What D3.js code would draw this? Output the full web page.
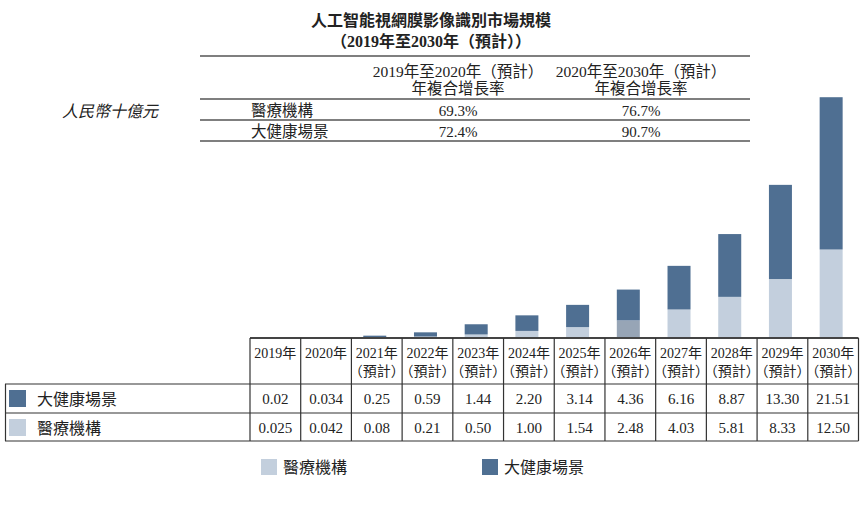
<!DOCTYPE html>
<html><head><meta charset="utf-8">
<script src="https://cdn.jsdelivr.net/npm/d3@7"></script>
<style>
html,body{margin:0;padding:0;background:#fff;}
svg{display:block;}
text{font-family:"Liberation Serif","Noto Sans CJK TC",serif;fill:#222;}
</style></head>
<body>
<svg id="chart" width="862" height="505"></svg>
<script>
const titleLines = ["人工智能視網膜影像識別市場規模", "（2019年至2030年（預計））"];
const unitLabel = "人民幣十億元";
const cagrHeaders = [["2019年至2020年（預計）", "年複合增長率"], ["2020年至2030年（預計）", "年複合增長率"]];
const cagrRows = ["醫療機構", "大健康場景"];
const cagrValues = [["69.3%", "76.7%"], ["72.4%", "90.7%"]];
const years = ["2019年","2020年","2021年","2022年","2023年","2024年","2025年","2026年","2027年","2028年","2029年","2030年"];
const forecastTag = "（預計）";
const forecastFrom = 2;
const seriesNames = ["大健康場景", "醫療機構"];
const healthValues = ["0.02","0.034","0.25","0.59","1.44","2.20","3.14","4.36","6.16","8.87","13.30","21.51"];
const medicalValues = ["0.025","0.042","0.08","0.21","0.50","1.00","1.54","2.48","4.03","5.81","8.33","12.50"];

const DARK = "#4f6f92", LIGHT = "#c3cfdd", ODD = "#97a5b6";
const svg = d3.select("#chart");

// Title
svg.selectAll("text.title").data(titleLines).join("text")
  .attr("x", 431).attr("y", (d,i)=>26 + i*21)
  .attr("text-anchor","middle").attr("font-size",16).attr("font-weight","bold")
  .text(d=>d);

// CAGR table
const cg = svg.append("g");
const lineCol = "#555";
[56, 99, 120, 141].forEach(y=>{
  cg.append("line").attr("x1",200).attr("x2",750).attr("y1",y).attr("y2",y)
    .attr("stroke",lineCol).attr("stroke-width",1.5);
});
const cagrX = [458, 641];
cagrHeaders.forEach((h,i)=>{
  h.forEach((t,j)=>{
    cg.append("text").attr("x",cagrX[i]).attr("y",77 + j*17).attr("text-anchor","middle")
      .attr("font-size",15.5).text(t);
  });
});
cagrRows.forEach((r,i)=>{
  cg.append("text").attr("x",251).attr("y",116 + i*21).attr("font-size",15.5).text(r);
  cagrValues[i].forEach((v,j)=>{
    cg.append("text").attr("x",cagrX[j]).attr("y",116 + i*21).attr("text-anchor","middle")
      .attr("font-size",15).text(v);
  });
});
svg.append("text").attr("x",62).attr("y",117).attr("font-size",16).attr("font-style","italic")
  .text(unitLabel);

// Scales
const x = d3.scaleBand().domain(years).range([250, 858.5]).padding(0);
const y = d3.scaleLinear().domain([0, 35]).range([338, 338 - 35*7.08]);
const barW = 23;
const bx = d => x(d) + (x.bandwidth() - barW)/2 - 2;

const data = years.map((yr,i)=>({year:yr, med:+medicalValues[i], health:+healthValues[i], i}));

// Bars: medical bottom, health on top
svg.append("g").selectAll("rect").data(data).join("rect")
  .attr("x", d=>bx(d.year)).attr("width", barW)
  .attr("y", d=>y(d.med)).attr("height", d=>y(0)-y(d.med))
  .attr("fill", d=> d.year==="2026年" ? ODD : LIGHT);
svg.append("g").selectAll("rect").data(data).join("rect")
  .attr("x", d=>bx(d.year)).attr("width", barW)
  .attr("y", d=>y(d.med + d.health)).attr("height", d=>y(d.med)-y(d.med + d.health))
  .attr("fill", DARK);

// Data table
const tg = svg.append("g");
const L = 250, R = x.range()[1];
const yTop = 338, yH = 384, yR1 = 413, yR2 = 441;
tg.append("line").attr("x1",L).attr("x2",R).attr("y1",yTop).attr("y2",yTop)
  .attr("stroke","#444").attr("stroke-width",2);
[yH, yR1, yR2].forEach(yy=>{
  tg.append("line").attr("x1",5).attr("x2",R).attr("y1",yy).attr("y2",yy)
    .attr("stroke","#333").attr("stroke-width",1.2);
});
tg.append("line").attr("x1",5.5).attr("x2",5.5).attr("y1",yH).attr("y2",yR2)
  .attr("stroke","#333").attr("stroke-width",1.2);
years.forEach(yr=>{
  tg.append("line").attr("x1",x(yr)).attr("x2",x(yr)).attr("y1",yTop).attr("y2",yR2)
    .attr("stroke","#333").attr("stroke-width",1.2);
});
tg.append("line").attr("x1",R).attr("x2",R).attr("y1",yTop).attr("y2",yR2)
  .attr("stroke","#333").attr("stroke-width",1.2);

const cx = d => x(d) + x.bandwidth()/2;
years.forEach((yr,i)=>{
  tg.append("text").attr("x",cx(yr)).attr("y",358).attr("text-anchor","middle")
    .attr("font-size",14).text(yr);
  if(i>=forecastFrom){
    tg.append("text").attr("x",cx(yr)).attr("y",376).attr("text-anchor","middle")
      .attr("font-size",14).text(forecastTag);
  }
  tg.append("text").attr("x",cx(yr)).attr("y",404).attr("text-anchor","middle")
    .attr("font-size",15).text(healthValues[i]);
  tg.append("text").attr("x",cx(yr)).attr("y",433).attr("text-anchor","middle")
    .attr("font-size",15).text(medicalValues[i]);
});
// row labels with swatches
const rowColors = [DARK, LIGHT];
seriesNames.forEach((s,i)=>{
  const ry = i===0 ? yH : yR1;
  tg.append("rect").attr("x",9).attr("y",ry+6).attr("width",17).attr("height",17).attr("fill",rowColors[i]);
  tg.append("text").attr("x",37).attr("y",ry+21).attr("font-size",16).text(s);
});

// Legend
const legend = [[seriesNames[1], LIGHT, 261], [seriesNames[0], DARK, 482]];
legend.forEach(([name,col,lx])=>{
  svg.append("rect").attr("x",lx).attr("y",459).attr("width",16).attr("height",16).attr("fill",col);
  svg.append("text").attr("x",lx+22).attr("y",473).attr("font-size",16).text(name);
});
</script>
</body></html>
